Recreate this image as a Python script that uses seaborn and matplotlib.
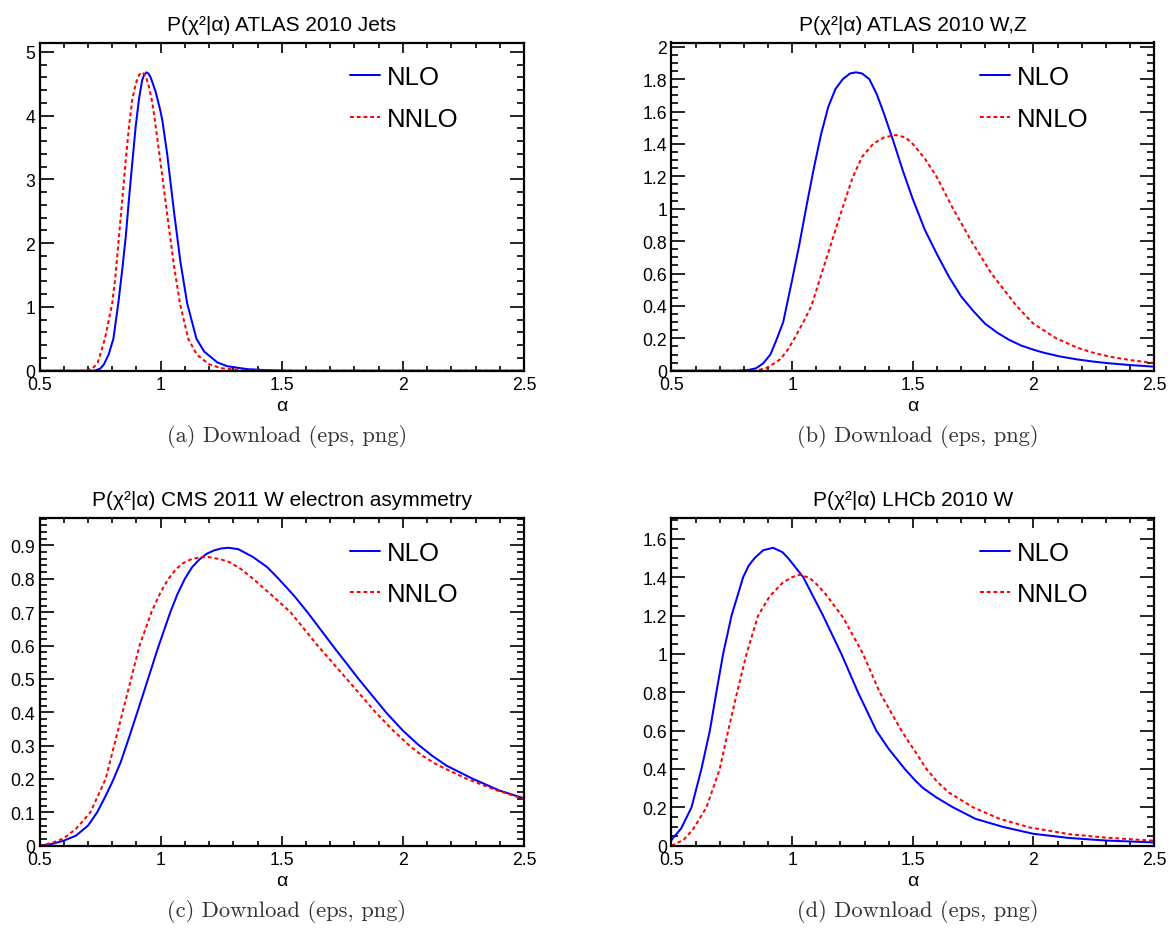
import matplotlib
matplotlib.use("Agg")
import matplotlib.pyplot as plt
import seaborn as sns
from matplotlib.ticker import MultipleLocator, FuncFormatter

# ---------------- data ----------------
titles = ["P(χ²|α) ATLAS 2010 Jets", "P(χ²|α) ATLAS 2010 W,Z",
          "P(χ²|α) CMS 2011 W electron asymmetry", "P(χ²|α) LHCb 2010 W"]
captions = ["(a) Download (eps, png)", "(b) Download (eps, png)",
            "(c) Download (eps, png)", "(d) Download (eps, png)"]
series_labels = ["NLO", "NNLO"]
x_ticks = [0.5, 1.0, 1.5, 2.0, 2.5]

# (a) ATLAS 2010 Jets
a_nlo_x = [0.5, 0.725, 0.75, 0.766, 0.785, 0.805, 0.825, 0.842, 0.856, 0.869, 0.883, 0.897, 0.911,
           0.924, 0.933, 0.942, 0.95, 0.959, 0.979, 0.997, 1.007, 1.027, 1.055, 1.082, 1.11, 1.148,
           1.18, 1.234, 1.275, 1.357, 1.44, 1.55, 2.5]
a_nlo_y = [0.0, 0.0, 0.03, 0.1, 0.25, 0.5, 1.05, 1.6, 2.1, 2.68, 3.26, 3.83, 4.27,
           4.56, 4.65, 4.68, 4.66, 4.6, 4.38, 4.11, 3.93, 3.4, 2.5, 1.7, 1.05, 0.5,
           0.3, 0.13, 0.07, 0.025, 0.008, 0.0, 0.0]
a_nnlo_x = [0.5, 0.69, 0.72, 0.74, 0.77, 0.80, 0.814, 0.828, 0.842, 0.856, 0.87, 0.883, 0.897, 0.911,
            0.924, 0.938, 0.952, 0.966, 0.979, 0.993, 1.007, 1.027, 1.055, 1.08, 1.114, 1.15, 1.2,
            1.25, 1.3, 1.4, 1.5, 2.5]
a_nnlo_y = [0.0, 0.0, 0.04, 0.12, 0.5, 1.05, 1.5, 2.1, 2.7, 3.3, 3.85, 4.25, 4.5, 4.64,
            4.68, 4.63, 4.45, 4.2, 3.85, 3.45, 3.05, 2.45, 1.65, 1.05, 0.5, 0.25, 0.1,
            0.04, 0.02, 0.005, 0.0, 0.0]

# (b) ATLAS 2010 W,Z
b_nlo_x = [0.5, 0.78, 0.82, 0.85, 0.88, 0.91, 0.935, 0.963, 1.0, 1.03, 1.06, 1.09, 1.12, 1.15, 1.18,
           1.21, 1.24, 1.265, 1.29, 1.32, 1.35, 1.38, 1.42, 1.46, 1.5, 1.55, 1.6, 1.65, 1.7, 1.75,
           1.8, 1.85, 1.9, 1.95, 2.0, 2.04, 2.11, 2.18, 2.25, 2.32, 2.4, 2.5]
b_nlo_y = [0.0, 0.0, 0.005, 0.015, 0.045, 0.1, 0.19, 0.3, 0.56, 0.78, 1.02, 1.25, 1.46, 1.63, 1.74,
           1.80, 1.835, 1.842, 1.835, 1.80, 1.71, 1.59, 1.415, 1.23, 1.06, 0.87, 0.72, 0.58, 0.46,
           0.37, 0.29, 0.235, 0.19, 0.155, 0.13, 0.112, 0.088, 0.07, 0.056, 0.045, 0.035, 0.025]
b_nnlo_x = [0.5, 0.85, 0.9, 0.95, 0.98, 1.01, 1.05, 1.08, 1.12, 1.165, 1.21, 1.25, 1.29, 1.336, 1.38,
            1.43, 1.47, 1.5, 1.55, 1.6, 1.667, 1.743, 1.826, 1.93, 2.0, 2.095, 2.18, 2.25, 2.32,
            2.4, 2.5]
b_nnlo_y = [0.0, 0.0, 0.02, 0.07, 0.125, 0.2, 0.31, 0.4, 0.59, 0.8, 1.01, 1.19, 1.32, 1.40, 1.44,
            1.455, 1.44, 1.40, 1.31, 1.195, 1.0, 0.8, 0.6, 0.4, 0.29, 0.2, 0.143, 0.11, 0.086,
            0.066, 0.047]

# (c) CMS 2011 W electron asymmetry
c_nlo_x = [0.5, 0.55, 0.6, 0.65, 0.7, 0.738, 0.77, 0.80, 0.835, 0.87, 0.906, 0.948, 0.99, 1.04,
           1.07, 1.10, 1.13, 1.16, 1.19, 1.22, 1.25, 1.28, 1.32, 1.38, 1.44, 1.487, 1.55, 1.606,
           1.71, 1.817, 1.93, 2.0, 2.06, 2.12, 2.18, 2.29, 2.4, 2.5]
c_nlo_y = [0.0, 0.005, 0.015, 0.03, 0.06, 0.1, 0.145, 0.19, 0.25, 0.325, 0.405, 0.5, 0.595, 0.7,
           0.755, 0.8, 0.835, 0.858, 0.875, 0.885, 0.891, 0.893, 0.889, 0.866, 0.835, 0.8, 0.75,
           0.7, 0.6, 0.5, 0.4, 0.345, 0.305, 0.27, 0.24, 0.2, 0.165, 0.142]
c_nnlo_x = [0.5, 0.55, 0.6, 0.65, 0.71, 0.773, 0.808, 0.843, 0.878, 0.913, 0.962, 1.0, 1.032, 1.065,
            1.095, 1.13, 1.17, 1.2, 1.25, 1.284, 1.33, 1.382, 1.46, 1.536, 1.648, 1.768, 1.887,
            1.96, 2.027, 2.08, 2.14, 2.265, 2.38, 2.5]
c_nnlo_y = [0.0, 0.008, 0.022, 0.05, 0.1, 0.2, 0.3, 0.4, 0.5, 0.6, 0.7, 0.76, 0.8, 0.83,
            0.848, 0.86, 0.865, 0.865, 0.858, 0.85, 0.83, 0.8, 0.75, 0.7, 0.6, 0.5, 0.4,
            0.345, 0.3, 0.27, 0.243, 0.2, 0.168, 0.14]

# (d) LHCb 2010 W
d_nlo_x = [0.5, 0.54, 0.583, 0.624, 0.659, 0.686, 0.714, 0.749, 0.797, 0.82, 0.845, 0.88, 0.921,
           0.96, 0.983, 1.046, 1.128, 1.204, 1.273, 1.349, 1.40, 1.467, 1.51, 1.543, 1.6, 1.667,
           1.76, 1.874, 2.0, 2.15, 2.3, 2.5]
d_nlo_y = [0.03, 0.09, 0.2, 0.4, 0.6, 0.8, 1.0, 1.2, 1.4, 1.46, 1.5, 1.54, 1.553,
           1.53, 1.5, 1.4, 1.2, 1.0, 0.8, 0.6, 0.505, 0.4, 0.34, 0.3, 0.25, 0.2,
           0.14, 0.098, 0.062, 0.04, 0.027, 0.017]
d_nnlo_x = [0.5, 0.55, 0.59, 0.645, 0.70, 0.735, 0.772, 0.811, 0.859, 0.907, 0.96, 1.0, 1.032,
            1.073, 1.1, 1.14, 1.211, 1.294, 1.363, 1.453, 1.557, 1.6, 1.65, 1.75, 1.86, 1.985,
            2.15, 2.3, 2.5]
d_nnlo_y = [0.0, 0.03, 0.087, 0.2, 0.4, 0.6, 0.8, 1.0, 1.2, 1.3, 1.37, 1.40, 1.413,
            1.395, 1.365, 1.31, 1.19, 1.0, 0.8, 0.6, 0.4, 0.335, 0.277, 0.2, 0.14, 0.095,
            0.06, 0.042, 0.026]

y_major = [1.0, 0.2, 0.1, 0.2]
y_minor = [0.2, 0.05, 0.02, 0.05]

curves = [(a_nlo_x, a_nlo_y, a_nnlo_x, a_nnlo_y),
          (b_nlo_x, b_nlo_y, b_nnlo_x, b_nnlo_y),
          (c_nlo_x, c_nlo_y, c_nnlo_x, c_nnlo_y),
          (d_nlo_x, d_nlo_y, d_nnlo_x, d_nnlo_y)]

# ---------------- style ----------------
sns.set_theme(style="white")
plt.rcParams["font.family"] = ["Liberation Sans", "DejaVu Sans"]
plt.rcParams["axes.edgecolor"] = "black"
plt.rcParams["axes.linewidth"] = 1.6
plt.rcParams["text.color"] = "black"
plt.rcParams["axes.labelcolor"] = "black"

W, H = 1175, 929
fig = plt.figure(figsize=(W / 100, H / 100), dpi=100)

col_px = [(39.5, 524.0), (671.5, 1154.0)]
row_px = [(43.5, 371.7), (519.0, 846.7)]

fmt = FuncFormatter(lambda v, p: "%g" % round(v, 6))

for i in range(4):
    r, c = divmod(i, 2)
    x0, x1 = col_px[c]
    y0, y1 = row_px[r]
    ax = fig.add_axes([x0 / W, 1 - y1 / H, (x1 - x0) / W, (y1 - y0) / H])
    nx, ny, mx, my = curves[i]
    sns.lineplot(x=nx, y=ny, ax=ax, color="#0000ff", lw=1.45, label=series_labels[0],
                 estimator=None, sort=False)
    sns.lineplot(x=mx, y=my, ax=ax, color="#ff0000", lw=1.45, linestyle=(0, (1.9, 1.45)),
                 label=series_labels[1], estimator=None, sort=False)
    ax.set_xlim(x_ticks[0], x_ticks[-1])
    ax.set_ylim(0, 1.1 * max(max(ny), max(my)))
    ax.xaxis.set_major_locator(MultipleLocator(0.5))
    ax.xaxis.set_minor_locator(MultipleLocator(0.1))
    ax.yaxis.set_major_locator(MultipleLocator(y_major[i]))
    ax.yaxis.set_minor_locator(MultipleLocator(y_minor[i]))
    ax.xaxis.set_major_formatter(fmt)
    ax.yaxis.set_major_formatter(fmt)
    ax.tick_params(which="both", direction="in", top=True, right=True, bottom=True, left=True,
                   color="black", width=1.2, labelsize=12.7, labelcolor="black")
    ax.tick_params(axis="x", which="major", length=7.2, pad=4)
    ax.tick_params(axis="x", which="minor", length=3.6)
    ax.tick_params(axis="y", which="major", length=10, pad=3)
    ax.tick_params(axis="y", which="minor", length=5)
    for s in ax.spines.values():
        s.set_color("black")
        s.set_linewidth(1.6)
    ax.set_xlabel("α", fontsize=14, labelpad=3, color="black")
    ax.set_ylabel("")
    ax.set_title(titles[i], fontsize=15, pad=9, color="black")
    ax.legend(loc="upper left", bbox_to_anchor=(0.64, 0.931), frameon=False, fontsize=18.5,
              handlelength=1.17, handletextpad=0.27, labelspacing=0.68, borderpad=0,
              borderaxespad=0, labelcolor="black")
    ax.text(0.5 + 5 / (x1 - x0), -65 / (y1 - y0), captions[i], transform=ax.transAxes,
            ha="center", va="center", fontfamily="cmr10", fontsize=16.2, color="#333333")

fig.savefig("out.png", dpi=100)
